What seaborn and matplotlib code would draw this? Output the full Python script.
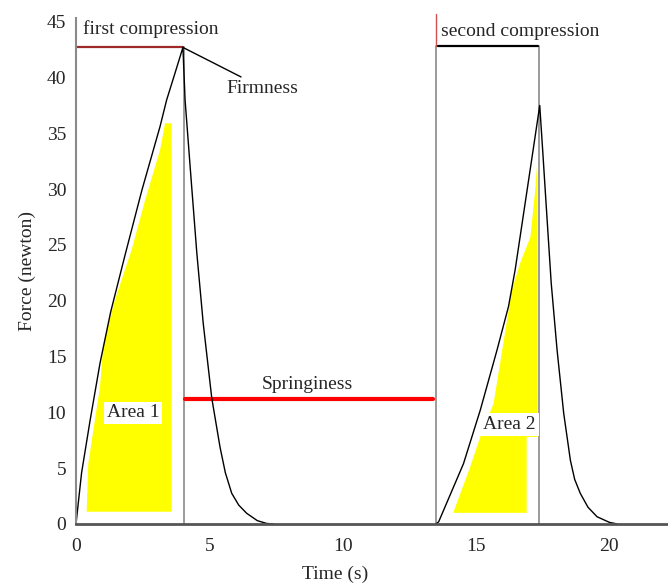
import numpy as np
import pandas as pd
import matplotlib
matplotlib.use("Agg")
import matplotlib.pyplot as plt
import seaborn as sns

# ---- data ----
t1 = [0.00, 0.21, 0.53, 0.90, 1.30, 1.84, 2.47, 3.15, 3.40, 3.70, 4.01,
      4.09, 4.30, 4.53, 4.77, 5.09, 5.40, 5.60, 5.84, 6.10, 6.40, 6.80, 7.15, 7.40]
f1 = [0.0, 4.6, 9.3, 14.4, 19.0, 24.1, 29.9, 35.6, 38.0, 40.3, 42.7,
      38.0, 31.4, 24.3, 18.0, 11.3, 6.9, 4.6, 2.75, 1.7, 0.96, 0.30, 0.05, 0.0]
t2 = [13.50, 13.60, 14.53, 15.16, 15.79, 16.22, 16.47, 17.16, 17.39,
      17.50, 17.62, 17.82, 18.04, 18.29, 18.54, 18.70, 18.91, 19.20, 19.54, 20.00, 20.30]
f2 = [0.0, 0.2, 5.4, 10.2, 15.6, 19.5, 22.8, 33.8, 37.5,
      33.5, 29.0, 21.6, 15.6, 9.9, 5.7, 4.0, 2.75, 1.5, 0.65, 0.15, 0.0]

area1_x = [0.40, 0.46, 0.90, 1.03, 1.45, 2.09, 2.59, 3.15, 3.34, 3.59, 3.59, 0.40]
area1_y = [1.1, 5.4, 12.3, 16.2, 20.0, 24.6, 29.0, 33.5, 35.9, 35.9, 1.1, 1.1]
area2_x = [14.16, 14.78, 15.16, 15.66, 16.35, 16.66, 17.04, 17.22, 17.29, 17.30, 16.90, 16.90, 14.16]
area2_y = [1.1, 5.1, 7.8, 10.8, 21.0, 23.4, 25.7, 29.9, 32.2, 7.8, 7.8, 1.0, 1.0]

peak1 = (4.01, 42.7)
peak2 = (17.37, 37.5)
firm_level = 42.7
second_level = 42.8
spring_y = 11.2
spring_x = (4.09, 13.4)
second_start = 13.5

xticks = [0, 5, 10, 15, 20]
yticks = list(range(0, 50, 5))

sns.set_style("white")
plt.rcParams["font.family"] = ["Liberation Serif", "DejaVu Serif"]

fig = plt.figure(figsize=(6.68, 5.83), dpi=100)
ax = fig.add_axes([76 / 668, 1 - 524 / 583, (668 - 76) / 668, (524 - 18.4) / 583])

# yellow areas
ax.fill(area1_x, area1_y, color="#ffff00", lw=0, zorder=1)
ax.fill(area2_x, area2_y, color="#ffff00", lw=0, zorder=1)

# curves
df1 = pd.DataFrame({"Time": t1, "Force": f1})
df2 = pd.DataFrame({"Time": t2, "Force": f2})
sns.lineplot(data=df1, x="Time", y="Force", sort=False, estimator=None,
             color="black", lw=1.0, ax=ax, zorder=4)
sns.lineplot(data=df2, x="Time", y="Force", sort=False, estimator=None,
             color="black", lw=1.0, ax=ax, zorder=4)

# reference lines
gray = "#8a8a8a"
ax.plot([peak1[0] + 0.04, peak1[0] + 0.04], [0, firm_level], color=gray, lw=1.2, zorder=3)
ax.plot([second_start, second_start], [0, second_level], color=gray, lw=1.2, zorder=3)
ax.plot([second_start, second_start], [second_level, 45.7], color="#d05050", lw=1.0,
        zorder=3, clip_on=False)
ax.plot([peak2[0], peak2[0]], [0, second_level], color=gray, lw=1.2, zorder=3)

ax.plot([0, peak1[0]], [firm_level, firm_level], color="#a02828", lw=1.6, zorder=3)
ax.plot([second_start + 0.08, peak2[0] - 0.05], [second_level, second_level],
        color="black", lw=1.6, zorder=3)
ax.plot(list(spring_x), [spring_y, spring_y], color="#ff0000", lw=3.0, zorder=3)

# texts
ax.text(0.27, 44.3, "first compression", fontsize=14, ha="left", va="center")
ax.text(13.68, 44.1, "second compression", fontsize=14, ha="left", va="center")
ax.text(8.66, 12.5, "Springiness", fontsize=14, ha="center", va="center")
ax.annotate("Firmness", xy=peak1, xytext=(6.97, 39.0), fontsize=14,
            ha="center", va="center",
            arrowprops=dict(arrowstyle="-", color="black", lw=1.0,
                            shrinkA=0, shrinkB=0, relpos=(0.3, 1.0)))
ax.text(2.14, 9.95, "Area 1", fontsize=14, ha="center", va="center", zorder=5,
        bbox=dict(boxstyle="square,pad=0.15", fc="white", ec="none"))
ax.text(16.25, 8.95, "Area 2", fontsize=14, ha="center", va="center", zorder=5,
        bbox=dict(boxstyle="square,pad=0.15", fc="white", ec="none"))

ax.set_xlim(0, 22.2)
ax.set_ylim(0, 45.3)
ax.set_xticks(xticks)
ax.set_yticks(yticks)
ax.tick_params(axis="both", labelsize=14, length=4, width=1, color=gray,
               direction="out", pad=3)
ax.tick_params(axis="x", pad=6)
ax.set_xlabel("Time (s)", fontsize=14, labelpad=6)
ax.xaxis.set_label_coords((335 - 76) / 592, -0.083)
ax.set_ylabel("Force (newton)", fontsize=14, labelpad=8)

for s in ["top", "right"]:
    ax.spines[s].set_visible(False)
ax.spines["left"].set_color(gray)
ax.spines["left"].set_linewidth(1.5)
ax.spines["bottom"].set_color("#555555")
ax.spines["bottom"].set_linewidth(2.0)
ax.spines["left"].set_zorder(6)
ax.spines["bottom"].set_zorder(6)

fig.savefig("out.png", dpi=100)
